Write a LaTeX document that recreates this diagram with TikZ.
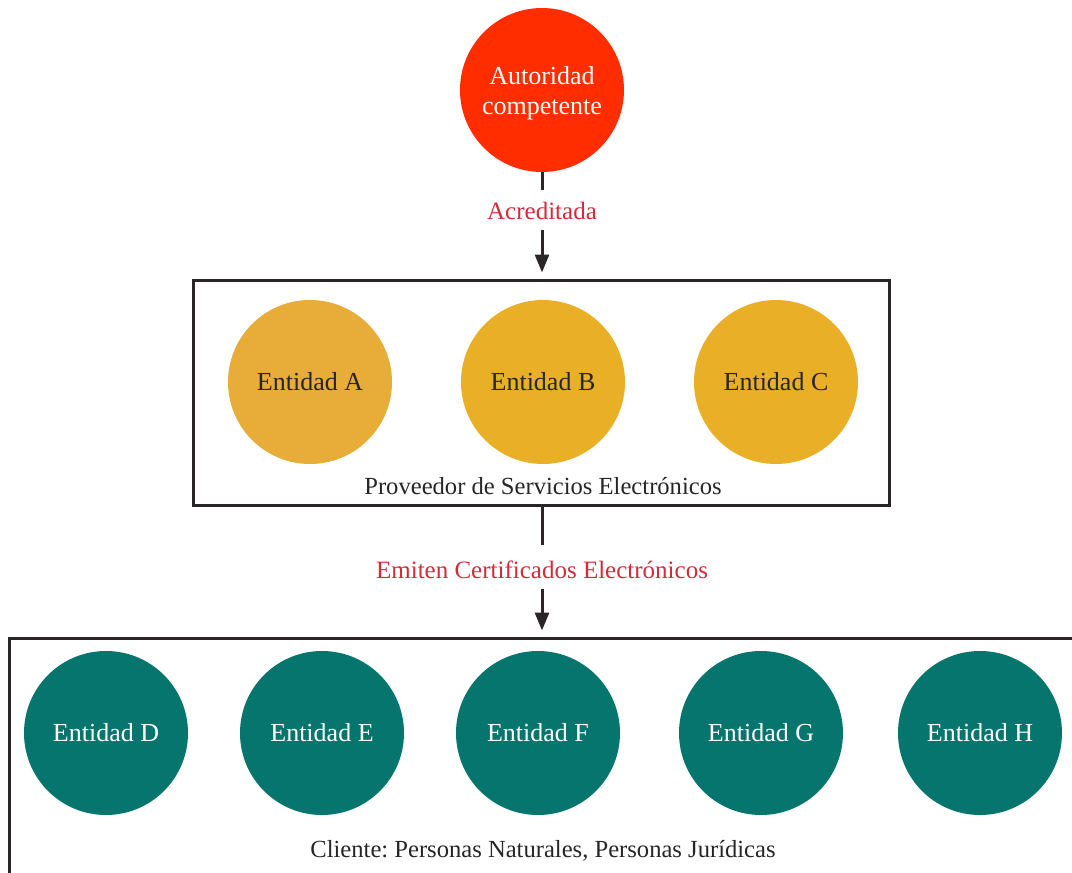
\documentclass[tikz,border=0pt]{standalone}
\usepackage{fontspec}
\setmainfont{Liberation Serif}
\frenchspacing
\usetikzlibrary{arrows.meta}
\definecolor{autred}{HTML}{FF2D00}
\definecolor{ambA}{HTML}{E8AC38}
\definecolor{ambB}{HTML}{E9B027}
\definecolor{teal1}{HTML}{06756E}
\definecolor{lblred}{HTML}{D42A3A}
\definecolor{linek}{HTML}{2A2628}
\tikzset{
  x=0.5pt, y=-0.5pt,
  ent/.style={circle, minimum size=82pt, inner sep=0pt, font=\fontsize{13}{15}\selectfont},
  amb/.style={ent, fill=ambB, text=black!85},
  tl/.style={ent, fill=teal1, text=white},
  lbl/.style={text=lblred, font=\fontsize{12.5}{15}\selectfont, inner xsep=1pt, inner ysep=0pt},
  captext/.style={text=black!85, font=\fontsize{12.3}{15}\selectfont, inner sep=0pt},
  frame/.style={draw=linek, line width=1.5pt, rectangle, inner sep=0pt},
  conn/.style={draw=linek, line width=1.5pt},
  arr/.style={conn, -{Triangle[width=7pt,length=9pt]}, shorten >=3pt}
}
\begin{document}
\begin{tikzpicture}
\useasboundingbox (0,0) rectangle (1072,873);
\clip (0,0) rectangle (1072,873);
% top authority
\node[ent, fill=autred, label={[text=white, align=center, font=\fontsize{13}{15}\selectfont, yshift=-1.5pt]center:Autoridad\\competente}] (aut) at (542,90) {};
\node[lbl] (acr) at (542,211) {Acreditada};
% box 1
\node[frame, minimum width=348pt, minimum height=112.5pt] (box1) at (541,392.5) {};
\node[amb, fill=ambA] (ea) at (310,382) {Entidad A};
\node[amb] (eb) at (543,382) {Entidad B};
\node[amb] (ec) at (776,382) {Entidad C};
\node[captext] (prov) at (543,486) {Proveedor de Servicios Electrónicos};
% label 2
\node[lbl] (emi) at (542,570) {Emiten Certificados Electrónicos};
% box 2
\node[frame, minimum width=545pt, minimum height=130pt] (box2) at (554.5,768) {};
\node[tl] (ed) at (106,733) {Entidad D};
\node[tl] (ee) at (322,733) {Entidad E};
\node[tl] (ef) at (538,733) {Entidad F};
\node[tl] (eg) at (761,733) {Entidad G};
\node[tl] (eh) at (980,733) {Entidad H};
\node[captext] (cli) at (543,851) {Cliente: Personas Naturales, Personas Jurídicas};
% connectors
\draw[conn] (aut.south) -- ([yshift=6pt]acr.north);
\draw[arr] ([yshift=-5pt]acr.south) -- (box1.north -| acr);
\draw[conn] (box1.south -| emi) -- ([yshift=8pt]emi.north);
\draw[arr] ([yshift=-5pt]emi.south) -- (box2.north -| emi);
\end{tikzpicture}
\end{document}
